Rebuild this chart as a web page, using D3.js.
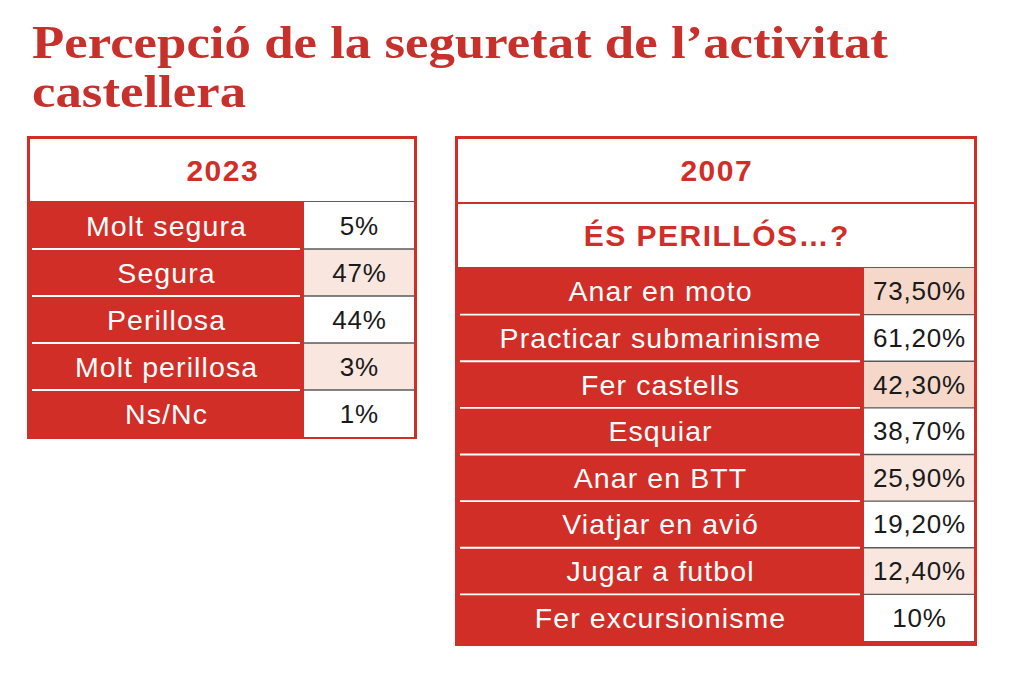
<!DOCTYPE html>
<html>
<head>
<meta charset="utf-8">
<script src="https://cdn.jsdelivr.net/npm/d3@7"></script>
<style>
  html, body { margin: 0; padding: 0; background: #ffffff; }
  svg { display: block; }
</style>
</head>
<body>
<svg id="chart" width="1024" height="674"></svg>
<script>
// ---------- DATA ----------
const titleLines = ["Percepció de la seguretat de l’activitat", "castellera"];

const header2023 = "2023";
const categories2023 = ["Molt segura", "Segura", "Perillosa", "Molt perillosa", "Ns/Nc"];
const values2023 = [5, 47, 44, 3, 1];
const shade2023 = [0, 1, 0, 1, 0];

const header2007 = "2007";
const subheader2007 = "ÉS PERILLÓS…?";
const categories2007 = ["Anar en moto", "Practicar submarinisme", "Fer castells", "Esquiar",
  "Anar en BTT", "Viatjar en avió", "Jugar a futbol", "Fer excursionisme"];
const values2007 = [73.5, 61.2, 42.3, 38.7, 25.9, 19.2, 12.4, 10];
const shade2007 = [2, 0, 2, 0, 1, 0, 1, 0];

// ---------- STYLE ----------
const RED = "#d12e28";
const TITLE_RED = "#c8302c";
const shadeColors = ["#ffffff", "#f9e7df", "#f5d8c9"];
const LABEL_FONT = "'Liberation Sans', Arial, Helvetica, sans-serif";

const fmt2023 = d => d + "%";
const fmt2007 = d => Number.isInteger(d) ? d + "%" : d.toFixed(2).replace(".", ",") + "%";

const svg = d3.select("#chart");

// ---------- TITLE (one text element, two lines, horizontally condensed) ----------
const TITLE_SIZE = 47;
const TITLE_FONT = "'Liberation Serif', 'DejaVu Serif', serif";
const probe = svg.append("text")
  .attr("font-family", TITLE_FONT).attr("font-weight", "bold").attr("font-size", TITLE_SIZE)
  .text(titleLines[0]);
const kTitle = 856 / probe.node().getComputedTextLength();
probe.remove();

const title = svg.append("text")
  .attr("transform", `translate(32,0) scale(${kTitle},1)`)
  .attr("font-family", TITLE_FONT)
  .attr("font-weight", "bold")
  .attr("font-size", TITLE_SIZE)
  .attr("fill", TITLE_RED);
title.selectAll("tspan").data(titleLines).join("tspan")
  .attr("x", 0)
  .attr("y", (d, i) => i === 0 ? 58 : 107)
  .text(d => d);

// ---------- TABLE BUILDER ----------
function drawTable(cfg) {
  const g = svg.append("g");
  const { x0, x1, y0, labelEnd, headers, cats, vals, fmt, shades, rowsTop, rowsBottom, bottom } = cfg;

  // outer red frame
  g.append("rect")
    .attr("x", x0).attr("y", y0)
    .attr("width", x1 - x0).attr("height", bottom - y0)
    .attr("fill", RED);

  // header boxes
  const hls = 1.5;
  headers.forEach(h => {
    g.append("rect")
      .attr("x", x0 + 3).attr("y", h.top)
      .attr("width", x1 - x0 - 6).attr("height", h.bottom - h.top)
      .attr("fill", "#ffffff");
    g.append("text")
      .attr("x", (x0 + x1) / 2 + hls / 2)
      .attr("y", (h.top + h.bottom) / 2 + 10.5)
      .attr("text-anchor", "middle")
      .attr("font-family", LABEL_FONT)
      .attr("font-weight", "bold")
      .attr("font-size", 30)
      .attr("letter-spacing", hls)
      .attr("fill", RED)
      .text(h.text);
  });

  const y = d3.scaleBand().domain(cats).range([rowsTop, rowsBottom]).paddingInner(0);
  const vx0 = labelEnd + 2, vx1 = x1 - 3;

  // value cells
  g.selectAll("rect.val").data(cats).join("rect")
    .attr("class", "val")
    .attr("x", vx0).attr("y", d => y(d))
    .attr("width", vx1 - vx0).attr("height", y.bandwidth())
    .attr("fill", (d, i) => shadeColors[shades[i]]);

  // dark separators between value cells
  g.selectAll("line.vsep").data(cats.slice(1)).join("line")
    .attr("class", "vsep")
    .attr("x1", vx0).attr("x2", vx1)
    .attr("y1", d => y(d)).attr("y2", d => y(d))
    .attr("stroke", "#5a5a5a").attr("stroke-width", 1.4);

  // white separators in label column
  g.selectAll("line.lsep").data(cats.slice(1)).join("line")
    .attr("class", "lsep")
    .attr("x1", x0 + 5).attr("x2", labelEnd - 2)
    .attr("y1", d => y(d)).attr("y2", d => y(d))
    .attr("stroke", "#ffffff").attr("stroke-width", 1.8);

  // labels
  const lls = 1.1;
  g.selectAll("text.lab").data(cats).join("text")
    .attr("class", "lab")
    .attr("x", (x0 + 3 + labelEnd) / 2 + lls / 2)
    .attr("y", d => y(d) + y.bandwidth() / 2 + 10)
    .attr("text-anchor", "middle")
    .attr("font-family", LABEL_FONT)
    .attr("font-size", 28.5)
    .attr("letter-spacing", lls)
    .attr("fill", "#ffffff")
    .text(d => d);

  // values
  const vls = 0.8;
  g.selectAll("text.v").data(cats).join("text")
    .attr("class", "v")
    .attr("x", (vx0 + vx1) / 2 + vls / 2)
    .attr("y", d => y(d) + y.bandwidth() / 2 + 9)
    .attr("text-anchor", "middle")
    .attr("font-family", LABEL_FONT)
    .attr("font-size", 26)
    .attr("letter-spacing", vls)
    .attr("fill", "#1a1a1a")
    .text((d, i) => fmt(vals[i]));
}

drawTable({
  x0: 27, x1: 417, y0: 136, bottom: 439, labelEnd: 302,
  headers: [{ text: header2023, top: 139, bottom: 201 }],
  cats: categories2023, vals: values2023, fmt: fmt2023, shades: shade2023,
  rowsTop: 202, rowsBottom: 437
});

drawTable({
  x0: 455, x1: 977, y0: 136, bottom: 646, labelEnd: 862,
  headers: [{ text: header2007, top: 139, bottom: 202 }, { text: subheader2007, top: 204, bottom: 267 }],
  cats: categories2007, vals: values2007, fmt: fmt2007, shades: shade2007,
  rowsTop: 268, rowsBottom: 641
});
</script>
</body>
</html>
